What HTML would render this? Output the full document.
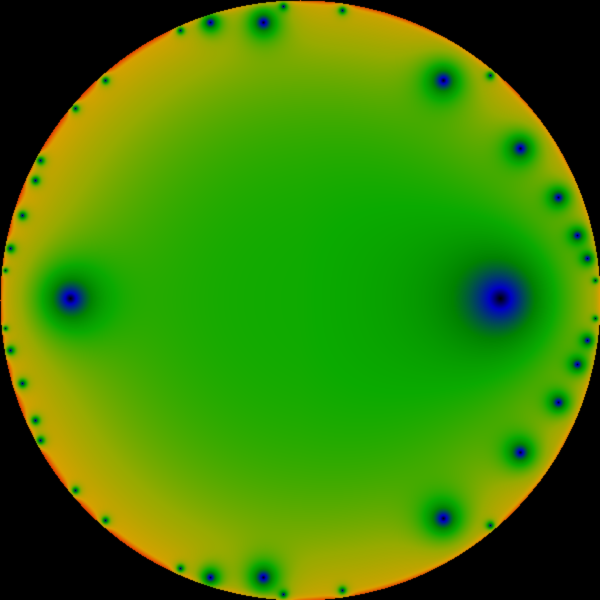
<!DOCTYPE html>
<html><head><meta charset="utf-8"><style>html,body{margin:0;padding:0;background:#000;}canvas{display:block;}</style></head>
<body>
<canvas id="c" width="600" height="600"></canvas>
<script>
const zeroX=[500,70,443,443,520,520,558,558,577,577,587,587,263,263,210,210,40,35,22,10,10,22,35,40,75,75,105,105,180,180,283,283,342,342,490,490,595,5,595,5];
const zeroY=[298,298,80,518,148,452,197,402,235,364,258,340,22,577,22,577,160,180,215,248,350,383,420,440,108,490,80,520,30,568,6,594,10,590,75,525,318,270,280,328];
const zeroScale=[40,24,14,14,11,11,8,8,6.5,6.5,5,5,12,12,8,8,3.5,3.5,3.5,3.5,3.5,3.5,3.5,3.5,3,3,3,3,3,3,3,3,3,3,3,3,2,2,2,2];
const stops=[[0,0,0,0],[0.15,0,0,200],[0.4,0,130,0],[0.55,10,170,0],[0.75,150,170,0],[0.9,220,160,0],[1,230,70,0]];
function cmap(u){u=Math.max(0,Math.min(1,u));for(let i=1;i<stops.length;i++){if(u<=stops[i][0]){const a=stops[i-1],b=stops[i],t=(u-a[0])/(b[0]-a[0]);return [a[1]+(b[1]-a[1])*t,a[2]+(b[2]-a[2])*t,a[3]+(b[3]-a[3])*t];}}return stops[stops.length-1].slice(1);}
const cv=document.getElementById('c'),ctx=cv.getContext('2d');
const img=ctx.createImageData(600,600),D=img.data;
for(let y=0;y<600;y++)for(let x=0;x<600;x++){
 const i=(y*600+x)*4;const dx=(x-300)/300,dy=(y-300)/300,r=Math.sqrt(dx*dx+dy*dy);
 if(r>1){D[i]=0;D[i+1]=0;D[i+2]=0;D[i+3]=255;continue;}
 let u=0.56+0.32*r*r*r+0.12*Math.pow(Math.max(0,(r-0.97)/0.03),2)-0.08*Math.max(0,dx)*(1-r*r)+0.04*Math.max(0,-dx)*r;
 for(let k=0;k<zeroX.length;k++){const ex=x-zeroX[k],ey=y-zeroY[k];const d=Math.sqrt(ex*ex+ey*ey);u*=1-Math.exp(-d/zeroScale[k]);}
 const c=cmap(u);D[i]=c[0];D[i+1]=c[1];D[i+2]=c[2];D[i+3]=255;}
ctx.putImageData(img,0,0);
</script>
</body></html>
